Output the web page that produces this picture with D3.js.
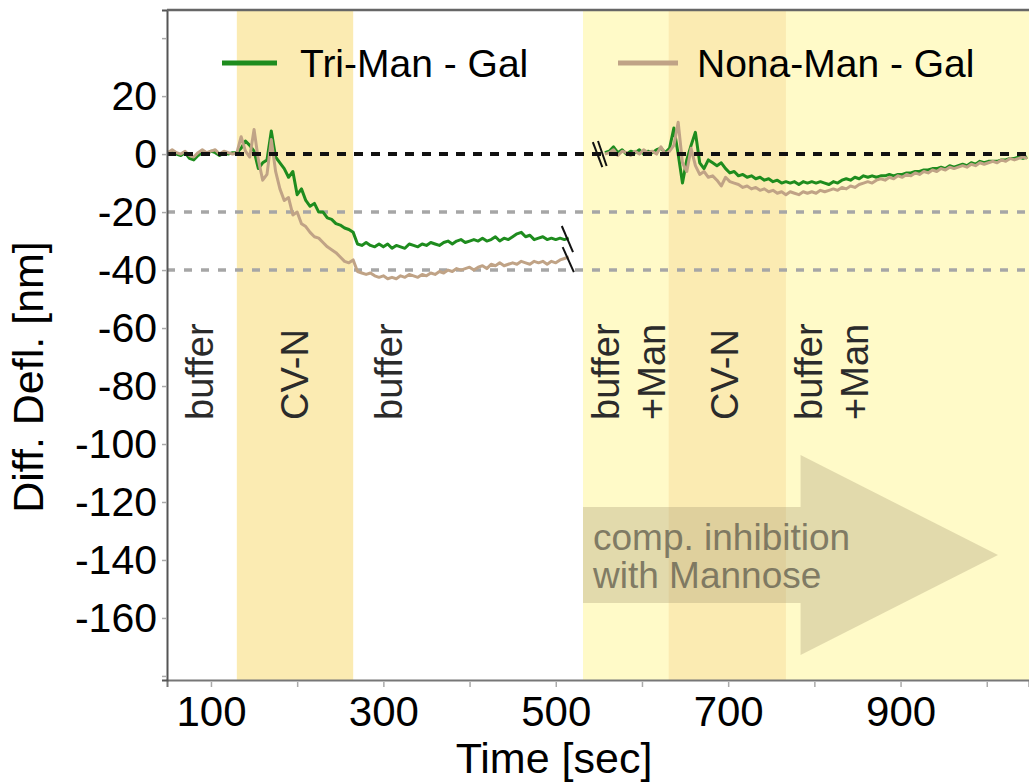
<!DOCTYPE html>
<html>
<head>
<meta charset="utf-8">
<script src="https://cdn.jsdelivr.net/npm/d3@7"></script>
<style>
  body { margin: 0; background: #fff; }
  svg { display: block; font-family: "Liberation Sans", Arial, sans-serif; }
</style>
</head>
<body>
<div id="chart"></div>
<script>
// DATA
const seg1Start = 50, seg2Start = 557, step = 5;   // sampling grid in sec

const triSeg1 = [
  0.5, 1, 0, -0.5, 0.5, -1.5, -2, -0.5, 0.5, 0, 1, 0.5, -0.5, 0.5, 0, 0.5,
  0.5, 2, 4.5, 3, 1, -5, -3, -2, 8, -1, -3, -5, -8, -6, -14, -12, -16, -18, -17, -20,
  -20, -22, -22.5, -24, -24.5, -25.5, -26, -27, -31, -31.5, -30.5, -31.5, -32, -31,
  -32, -31, -32.5, -31.5, -32, -32.5, -31, -31.5, -32, -31,
  -31.5, -30.5, -31, -31.5, -30.5, -30, -31, -30, -29.5, -30.5,
  -30, -29.5, -30, -29, -30, -29.5, -28.5, -30, -29, -29.5,
  -28.5, -27.5, -27, -28.5, -28, -29.5, -29, -28.5, -29.5, -29,
  -29.5, -29, -29.5, -29
];
const nonaSeg1 = [
  0.5, 1.5, 0.5, 0, 1, -0.5, -1, 0.5, 1.5, 0.5, 1, 1.5, 0, 1, 0.5, 0,
  0.3, 6, 1, -1, 8.5, -2, -9, -7, 5, -6, -12, -16, -15, -21, -20, -24, -25, -27, -28.5,
  -29, -30.5, -32, -33, -34, -35.5, -37, -37.5, -36.5, -40.5, -41, -41.5, -41, -42, -42.5,
  -42, -43, -42.5, -43, -42, -42.5, -41.5, -42, -42.5, -41.5,
  -42, -41, -41.5, -40.5, -41, -40, -40.5, -39.5, -40, -39.5,
  -39, -40, -39, -38.5, -39.5, -38, -38.5, -37.5, -38.5, -38,
  -37.5, -38, -37, -37.5, -38, -37, -37.5, -37, -38, -37,
  -37.5, -36.5, -36, -35.5
];
const triSeg2 = [
  0.5, 1, 2.5, 0.5, 1.5, 0, 1, 0.5, 1.5, 0,
  1, 0.5, 1.5, 2, 0.5, 2, 9, 0, -10, -2,
  3, 7.5, -3, -5, -2, -3, -4, -3, -5, -6.5,
  -6, -7.5, -7, -8, -7.5, -8.5, -8, -9, -8.5, -9.5,
  -9, -10, -9.5, -10, -9.5, -10.5, -9.5, -10, -9.5, -10,
  -9.5, -10, -10.5, -9.5, -10, -9, -8.5, -9, -8, -8.5,
  -7.5, -8, -7.5, -8, -7.5, -7.5, -7, -7.5, -7, -7,
  -6.5, -6.5, -6, -6, -5.5, -5.5, -5, -5, -4.5, -5,
  -4, -4.5, -4, -3.5, -4, -3, -3.5, -2.5, -3, -2.5,
  -2.5, -2.5, -2, -2, -1.5, -1.5, -1, -1.5, -1
];
const nonaSeg2 = [
  0, 0.5, 1.5, -0.5, 1, 0.5, -0.5, 1, 0, 1.5,
  0.5, 1, 0, 2.5, 0, 1, 3, 11, -3, -6,
  2, -4, -7, -6, -8, -7.5, -9, -11, -8, -9.5,
  -10, -10.5, -11.5, -11, -12, -11.5, -12.5, -12, -13, -12.5,
  -13.5, -13, -14, -13, -13.5, -14, -13, -13.5, -13, -13.5,
  -12.5, -13, -12.5, -12, -12.5, -11.5, -12, -11, -11.5, -10.5,
  -10, -9.5, -10, -9, -8.5, -9, -8, -8.5, -7.5, -8,
  -7, -7.5, -6.5, -7, -6, -6.5, -5.5, -6, -5, -5.5,
  -4.5, -5, -4.5, -4, -4.5, -3.5, -4, -3, -3.5, -3,
  -2.5, -3, -2, -2.5, -1.5, -2, -1.5, -1, -1.5
];

const seriesNames = ["Tri-Man - Gal", "Nona-Man - Gal"];
const seriesColors = ["#1e8c1e", "#c0a386"];

// phases: [start, end] in sec
const cvnBands = [[130, 265], [631, 767]];
const mannoseBand = [531.6, 1100];
const phaseLabels = [
  { t: 102, lines: ["buffer"] },
  { t: 212.5, lines: ["CV-N"] },
  { t: 321.6, lines: ["buffer"] },
  { t: 573, lines: ["buffer", "+Man"] },
  { t: 711.4, lines: ["CV-N"] },
  { t: 808.8, lines: ["buffer", "+Man"] }
];

const xTicks = [100, 200, 300, 400, 500, 600, 700, 800, 900, 1000];
const xTickLabels = [100, 300, 500, 700, 900];
const yTicks = [-180, -160, -140, -120, -100, -80, -60, -40, -20, 0, 20, 40];
const yTickLabels = [-160, -140, -120, -100, -80, -60, -40, -20, 0, 20];
const refLines = [0, -20, -40];

// arrow "comp. inhibition with Mannose" in (sec, nm)
const arrowPts = [[531.6, -121.7], [784, -121.7], [784, -103.8], [1013, -138.3],
                  [784, -172.8], [784, -154.8], [531.6, -154.8]];
const arrowText = ["comp. inhibition", "with Mannose"];
// axis-break marks in (sec, nm)
const breakMarks = [
  [[507, -24.8], [520, -33.8]],
  [[508, -32.1], [521, -40.7]],
  [[543, 4.1], [554, -4.5]],
  [[549, 4.5], [559, -4.1]]
];

// 1: SET GLOBAL VARIABLES
const margin = { top: 10, right: 0, bottom: 103, left: 167 };
const width = 1029 - margin.left - margin.right;
const height = 783 - margin.top - margin.bottom;

const svgRoot = d3.select("#chart").append("svg")
  .attr("width", 1029)
  .attr("height", 783);
const svg = svgRoot.append("g")
  .attr("transform", `translate(${margin.left},${margin.top})`);

svg.append("clipPath").attr("id", "plot-clip")
  .append("rect").attr("width", width).attr("height", height);

const xScale = d3.scaleLinear().domain([49, 1049]).range([0, width]);
const yScale = d3.scaleLinear().domain([-181.4, 49.7]).range([height, 0]);

const plot = svg.append("g").attr("clip-path", "url(#plot-clip)");

// background phases
plot.append("rect")
  .attr("x", xScale(mannoseBand[0]))
  .attr("width", xScale(mannoseBand[1]) - xScale(mannoseBand[0]))
  .attr("y", 0).attr("height", height)
  .style("fill", "#fffac8");

plot.selectAll("rect.cvn")
  .data(cvnBands)
  .enter().append("rect")
  .attr("class", "cvn")
  .attr("x", d => xScale(d[0]))
  .attr("width", d => xScale(d[1]) - xScale(d[0]))
  .attr("y", 0).attr("height", height)
  .style("fill", "#fbebb2");

// arrow
plot.append("path")
  .attr("d", d3.line().x(d => xScale(d[0])).y(d => yScale(d[1]))(arrowPts) + "Z")
  .style("fill", "rgb(160,145,110)")
  .style("opacity", 0.3);

plot.selectAll("text.arrow-label")
  .data(arrowText)
  .enter().append("text")
  .attr("class", "arrow-label")
  .attr("x", xScale(531.6) + 10)
  .attr("y", (d, i) => 550 - margin.top + i * 38)
  .style("font-size", "37px")
  .style("fill", "#6f6b58")
  .style("opacity", 0.85)
  .text(d => d);

// grey reference lines
plot.selectAll("line.ref")
  .data(refLines.filter(v => v !== 0))
  .enter().append("line")
  .attr("class", "ref")
  .attr("x1", 0).attr("x2", width)
  .attr("y1", d => yScale(d)).attr("y2", d => yScale(d))
  .style("stroke", "#a6a6a6")
  .style("stroke-width", 3.5)
  .style("stroke-dasharray", "8,9");

// phase labels
const labelG = plot.selectAll("g.phase")
  .data(phaseLabels)
  .enter().append("g")
  .attr("class", "phase")
  .attr("transform", d => `translate(${xScale(d.t)},${yScale(-91.7)}) rotate(-90)`);

labelG.selectAll("text")
  .data(d => d.lines)
  .enter().append("text")
  .attr("x", 0)
  .attr("y", (d, i) => i * 46)
  .style("font-size", "38px")
  .style("fill", "#2b2b2b")
  .text(d => d);

// traces
const line = d3.line()
  .x(d => xScale(d.t))
  .y(d => yScale(d.v));

const toPoints = (vals, start) => vals.map((v, i) => ({ t: start + i * step, v }));

const traces = [
  { name: seriesNames[0], segs: [toPoints(triSeg1, seg1Start), toPoints(triSeg2, seg2Start)] },
  { name: seriesNames[1], segs: [toPoints(nonaSeg1, seg1Start), toPoints(nonaSeg2, seg2Start)] }
];

traces.forEach((s, k) => {
  plot.selectAll(`path.trace${k}`)
    .data(s.segs)
    .enter().append("path")
    .attr("class", `trace${k}`)
    .attr("d", line)
    .style("fill", "none")
    .style("stroke", seriesColors[k])
    .style("stroke-width", 3)
    .style("stroke-linejoin", "round");
});

// black zero line on top
plot.append("line")
  .attr("x1", 0).attr("x2", width)
  .attr("y1", yScale(0)).attr("y2", yScale(0))
  .style("stroke", "#111")
  .style("stroke-width", 4)
  .style("stroke-dasharray", "9,8");

// axis-break marks
plot.selectAll("line.brk")
  .data(breakMarks)
  .enter().append("line")
  .attr("class", "brk")
  .attr("x1", d => xScale(d[0][0])).attr("y1", d => yScale(d[0][1]))
  .attr("x2", d => xScale(d[1][0])).attr("y2", d => yScale(d[1][1]))
  .style("stroke", "#111")
  .style("stroke-width", 2);

// AXES
const xAxis = svg.append("g")
  .attr("transform", `translate(0,${height})`)
  .call(d3.axisBottom(xScale).tickValues(xTicks).tickSize(7).tickPadding(9)
    .tickFormat(d => xTickLabels.includes(d) ? d : ""));
xAxis.select(".domain").style("stroke", "#777").style("stroke-width", 2);
xAxis.selectAll(".tick line").style("stroke", "#aaa").style("stroke-width", 1.5)
  .attr("y1", 2);
xAxis.selectAll(".tick text").style("font-size", "42px").style("fill", "#000")
  .attr("dy", "0.71em");

const yAxis = svg.append("g")
  .call(d3.axisLeft(yScale).tickValues(yTicks).tickSize(5).tickPadding(5)
    .tickFormat(d => yTickLabels.includes(d) ? d : ""));
yAxis.select(".domain").style("stroke", "#555").style("stroke-width", 2);
yAxis.selectAll(".tick line").style("stroke", "#aaa").style("stroke-width", 1.5);
yAxis.selectAll(".tick text").style("font-size", "41px").style("fill", "#000")
  .text(d => yTickLabels.includes(d) ? String(d) : "");

// top frame
svg.append("line")
  .attr("x1", 0).attr("x2", width).attr("y1", 0).attr("y2", 0)
  .style("stroke", "#666").style("stroke-width", 2.5);

// LABELS
svg.append("text")
  .attr("x", 554 - margin.left)
  .attr("y", 773 - margin.top)
  .attr("text-anchor", "middle")
  .style("font-size", "43px")
  .text("Time [sec]");

svg.append("text")
  .attr("transform", `translate(${43 - margin.left},${377 - margin.top}) rotate(-90)`)
  .attr("text-anchor", "middle")
  .style("font-size", "43px")
  .text("Diff. Defl. [nm]");

// LEGEND
const legendPos = [{ x1: 222, x2: 277, tx: 300 }, { x1: 618, x2: 678, tx: 697 }];
const legend = svgRoot.selectAll("g.legend")
  .data(seriesNames)
  .enter().append("g")
  .attr("class", "legend");

legend.append("line")
  .attr("x1", (d, i) => legendPos[i].x1)
  .attr("x2", (d, i) => legendPos[i].x2)
  .attr("y1", 63).attr("y2", 63)
  .style("stroke", (d, i) => seriesColors[i])
  .style("stroke-width", 5);

legend.append("text")
  .attr("x", (d, i) => legendPos[i].tx)
  .attr("y", 77)
  .style("font-size", "39px")
  .text(d => d);
</script>
</body>
</html>
